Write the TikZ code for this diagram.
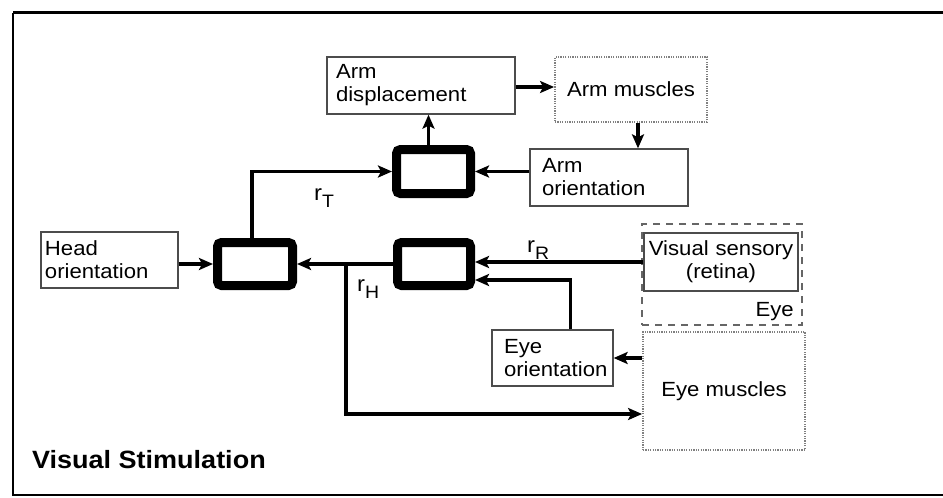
\documentclass[tikz,border=0pt]{standalone}
\usepackage{fontspec}
\setmainfont{Liberation Sans}[FakeStretch=1.08]
\usetikzlibrary{arrows.meta}
\begin{document}
\begin{tikzpicture}[x=1pt,y=-1pt,
  every node/.style={font=\fontsize{20.5}{23}\selectfont},
  box/.style={draw=black!70, line width=1.3, rectangle, inner ysep=2},
  dotbox/.style={draw=black!50, line width=1.8, dash pattern=on 1.2pt off 1.2pt, rectangle, inner sep=0, align=center},
  grpbox/.style={draw=black!60, line width=1.3, dash pattern=on 7pt off 6pt, rectangle, inner sep=0},
  cmp/.style={draw=black, line width=9, rounded corners=4, rectangle, inner sep=0, outer sep=4.5},
  arr/.style={line width=3.3, -{Stealth[length=14pt,width=12pt,inset=3pt]}},
  lbl/.style={inner sep=0, anchor=base west}
]
\useasboundingbox (0,0) rectangle (943,498);
% outer frame (right side cut off)
\coordinate (f1) at (943,12.5);
\coordinate (f2) at (13,12.5);
\coordinate (f3) at (13,495);
\coordinate (f4) at (943,495);
\draw[line width=3] (f1) -- (f2);
\draw[line width=2.2] (f2) -- (f3) -- (f4);

% boxes
\node[box, minimum width=188, minimum height=57, inner xsep=9, text width=170, align=left] (ad) at (421,85.5) {Arm\\displacement};
\node[dotbox, minimum width=152, minimum height=65] (am) at (631,89.5) {Arm muscles};
\node[box, minimum width=158, minimum height=57, inner xsep=12, text width=134, align=left] (ao) at (609,177.5) {Arm\\orientation};
\node[box, minimum width=137, minimum height=56, inner xsep=4, text width=129, align=left] (ho) at (109.5,260) {Head\\orientation};
\node[grpbox, minimum width=160, minimum height=101] (eye) at (722,274.5) {};
\node[box, minimum width=154, minimum height=58, inner xsep=2, text width=150, align=center] (vs) at (721,262) {Visual sensory\\(retina)};
\node[lbl, anchor=base east] (eyel) at (794,316) {Eye};
\node[box, minimum width=121, minimum height=56, inner xsep=12, text width=97, align=left] (eo) at (552.5,358) {Eye\\orientation};
\node[dotbox, minimum width=162, minimum height=118] (em) at (724,391) {Eye muscles};

% comparators
\node[cmp, minimum width=74, minimum height=44] (c1) at (433.5,171.5) {};
\node[cmp, minimum width=75, minimum height=43] (c2) at (255,264) {};
\node[cmp, minimum width=73, minimum height=43] (c3) at (434,264) {};

% labels
\node[lbl] (rT) at (314,200) {\fontsize{22}{22}\selectfont r\raisebox{-7pt}{\fontsize{18}{18}\selectfont T}};
\node[lbl] (rR) at (527,252) {\fontsize{22}{22}\selectfont r\raisebox{-7pt}{\fontsize{18}{18}\selectfont R}};
\node[lbl] (rH) at (357,291) {\fontsize{22}{22}\selectfont r\raisebox{-7pt}{\fontsize{18}{18}\selectfont H}};
\node[lbl] (vst) at (32,468) {\fontsize{25}{25}\selectfont\bfseries Visual Stimulation};

% connectors
\draw[arr] (ho.east |- c2) -- (c2.west);
\draw[arr] ([xshift=-3]c2.north) |- (c1.west);
\draw[arr] ([xshift=-5]c1.north) -- ([xshift=-5]c1.north |- ad.south);
\draw[arr] ([yshift=-1.5]ad.east) -- ([yshift=-1.5]ad.east -| am.west);
\draw[arr] ([xshift=7]am.south) -- ([xshift=7]am.south |- ao.north);
\draw[arr] (ao.west |- c1) -- (c1.east);
\draw[arr] (vs.west) -- (vs.west -| c3.east);
\draw[arr] ([xshift=18]eo.north) |- ([yshift=-16]c3.east);
\draw[arr] (c3.west) -- (c2.east);
\coordinate (j) at (346,264);
\draw[arr] (j) |- ([yshift=-23]em.west);
\draw[arr] (em.west |- eo.east) -- (eo.east);
\end{tikzpicture}
\end{document}
